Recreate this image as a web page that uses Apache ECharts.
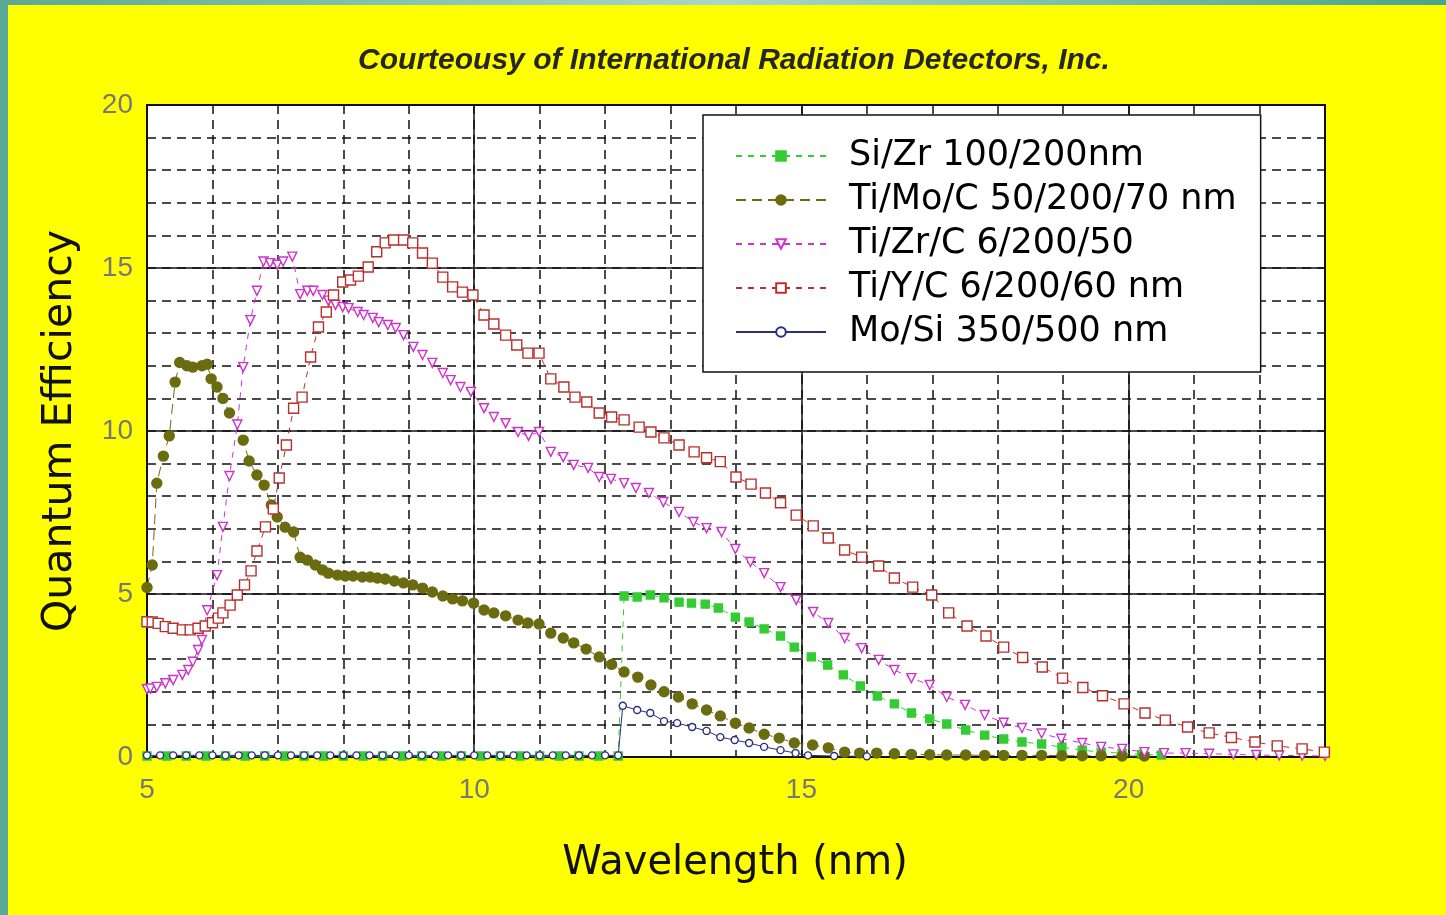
<!DOCTYPE html>
<html><head><meta charset="utf-8">
<script src="https://cdn.jsdelivr.net/npm/echarts@6/dist/echarts.min.js"></script>
<style>html,body{margin:0;padding:0;background:#ffff00;}#c{width:1446px;height:915px;}</style>
</head><body><div id="c"></div>
<script>
// ---- data (wavelength nm, quantum efficiency) ----
const seriesNames = ['Si/Zr 100/200nm','Ti/Mo/C 50/200/70 nm','Ti/Zr/C 6/200/50','Ti/Y/C 6/200/60 nm','Mo/Si 350/500 nm'];
const xTicks = [5,10,15,20];
const yTicks = [0,5,10,15,20];

const siZr = [[5.0,0.03],[5.3,0.03],[5.6,0.03],[5.9,0.03],[6.2,0.03],[6.5,0.03],[6.8,0.03],[7.1,0.03],[7.4,0.03],[7.7,0.03],[8.0,0.03],[8.3,0.03],[8.6,0.03],[8.9,0.03],[9.2,0.03],[9.5,0.03],[9.8,0.03],[10.1,0.03],[10.4,0.03],[10.7,0.03],[11.0,0.03],[11.3,0.03],[11.6,0.03],[11.9,0.03],[12.2,0.03],
[12.29,4.94],[12.49,4.91],[12.69,4.97],[12.9,4.88],[13.13,4.75],[13.32,4.72],[13.53,4.69],[13.73,4.57],[13.99,4.29],[14.2,4.14],[14.43,3.93],[14.68,3.71],[14.89,3.37],[15.15,3.07],[15.4,2.82],[15.64,2.52],[15.9,2.18],[16.16,1.87],[16.42,1.63],[16.68,1.35],[16.96,1.17],[17.22,1.01],[17.51,0.83],[17.8,0.67],[18.09,0.55],[18.37,0.46],[18.67,0.4],[18.98,0.3],[19.29,0.21],[19.58,0.15],[19.9,0.12],[20.2,0.08],[20.5,0.06]];

const tiMoC = [[5.0,5.2],[5.08,5.89],[5.15,8.4],[5.25,9.23],[5.34,9.85],[5.43,11.5],[5.5,12.1],[5.61,12.0],[5.7,11.96],[5.84,12.0],[5.92,12.05],[5.98,11.6],[6.07,11.35],[6.16,11.0],[6.26,10.55],[6.47,9.72],[6.56,9.08],[6.68,8.65],[6.79,8.34],[6.9,7.73],[6.99,7.36],[7.11,7.05],[7.24,6.9],[7.34,6.13],[7.45,6.04],[7.57,5.89],[7.68,5.74],[7.77,5.64],[7.91,5.58],[8.03,5.55],[8.15,5.55],[8.29,5.52],[8.41,5.52],[8.52,5.49],[8.64,5.46],[8.78,5.4],[8.92,5.34],[9.06,5.28],[9.21,5.18],[9.36,5.06],[9.52,4.94],[9.67,4.85],[9.82,4.79],[9.99,4.72],[10.15,4.51],[10.3,4.42],[10.48,4.33],[10.67,4.2],[10.82,4.11],[10.99,4.08],[11.17,3.8],[11.36,3.65],[11.52,3.5],[11.71,3.31],[11.91,3.07],[12.1,2.84],[12.29,2.61],[12.5,2.45],[12.7,2.21],[12.9,2.0],[13.12,1.84],[13.33,1.63],[13.55,1.44],[13.76,1.26],[13.99,1.04],[14.2,0.89],[14.43,0.7],[14.66,0.58],[14.89,0.43],[15.17,0.37],[15.41,0.28],[15.66,0.15],[15.89,0.12],[16.15,0.12],[16.42,0.1],[16.68,0.08],[16.96,0.07],[17.22,0.06],[17.51,0.06],[17.8,0.05],[18.09,0.05],[18.37,0.05],[18.67,0.05],[18.98,0.04],[19.29,0.04],[19.58,0.04],[19.9,0.03],[20.24,0.03]];

const tiZrC = [[5.0,2.08],[5.05,2.1],[5.15,2.15],[5.28,2.26],[5.4,2.36],[5.54,2.52],[5.63,2.67],[5.7,2.92],[5.78,3.28],[5.84,3.59],[5.92,4.5],[6.07,5.58],[6.16,7.06],[6.26,8.62],[6.38,10.2],[6.47,11.96],[6.58,13.4],[6.68,14.3],[6.78,15.2],[6.88,15.15],[6.99,15.1],[7.08,15.2],[7.22,15.35],[7.34,14.2],[7.45,14.3],[7.54,14.3],[7.68,14.17],[7.77,14.0],[7.88,13.87],[7.99,13.8],[8.08,13.77],[8.22,13.65],[8.31,13.56],[8.45,13.47],[8.54,13.34],[8.68,13.25],[8.8,13.16],[8.92,12.94],[9.07,12.58],[9.21,12.33],[9.36,12.09],[9.52,11.78],[9.64,11.56],[9.79,11.35],[9.95,11.2],[10.15,10.7],[10.3,10.43],[10.48,10.24],[10.67,9.97],[10.83,9.85],[10.99,9.97],[11.17,9.36],[11.36,9.2],[11.52,8.96],[11.74,8.87],[11.91,8.59],[12.09,8.53],[12.29,8.4],[12.47,8.25],[12.67,8.1],[12.89,7.82],[13.13,7.52],[13.35,7.21],[13.55,7.02],[13.78,6.9],[13.99,6.38],[14.22,5.98],[14.43,5.64],[14.68,5.21],[14.92,4.82],[15.18,4.45],[15.41,4.11],[15.66,3.65],[15.92,3.34],[16.18,2.98],[16.42,2.67],[16.68,2.42],[16.96,2.21],[17.22,1.84],[17.5,1.6],[17.8,1.29],[18.09,1.05],[18.37,0.89],[18.67,0.72],[18.97,0.56],[19.29,0.43],[19.58,0.31],[19.9,0.25],[20.24,0.15],[20.54,0.12],[20.87,0.12],[21.23,0.1],[21.6,0.08],[21.95,0.06],[22.3,0.05],[22.65,0.04],[23.0,0.03]];

const tiYC = [[5.0,4.15],[5.08,4.14],[5.17,4.1],[5.28,4.0],[5.4,3.95],[5.54,3.9],[5.66,3.9],[5.78,3.95],[5.89,4.02],[6.0,4.12],[6.09,4.26],[6.16,4.42],[6.27,4.66],[6.38,4.97],[6.49,5.28],[6.59,5.71],[6.68,6.32],[6.81,7.06],[6.93,7.61],[7.02,8.56],[7.13,9.57],[7.24,10.7],[7.37,11.04],[7.5,12.27],[7.62,13.19],[7.74,13.65],[7.85,14.17],[7.99,14.57],[8.11,14.63],[8.23,14.75],[8.38,15.03],[8.51,15.5],[8.64,15.77],[8.77,15.86],[8.92,15.86],[9.06,15.77],[9.21,15.46],[9.36,15.15],[9.52,14.72],[9.67,14.42],[9.82,14.26],[9.98,14.17],[10.15,13.56],[10.3,13.28],[10.48,12.94],[10.65,12.64],[10.82,12.39],[10.99,12.39],[11.17,11.6],[11.37,11.35],[11.54,11.04],[11.72,10.89],[11.91,10.55],[12.1,10.43],[12.29,10.34],[12.52,10.12],[12.7,9.97],[12.9,9.79],[13.13,9.57],[13.36,9.36],[13.55,9.18],[13.76,9.06],[14.0,8.59],[14.23,8.37],[14.45,8.1],[14.68,7.8],[14.92,7.42],[15.18,7.09],[15.41,6.72],[15.66,6.35],[15.92,6.13],[16.18,5.86],[16.42,5.49],[16.7,5.21],[16.99,4.97],[17.25,4.42],[17.53,4.02],[17.82,3.71],[18.09,3.37],[18.38,3.05],[18.68,2.76],[18.99,2.42],[19.3,2.13],[19.6,1.88],[19.93,1.63],[20.25,1.35],[20.56,1.13],[20.9,0.92],[21.23,0.74],[21.57,0.6],[21.93,0.46],[22.27,0.34],[22.65,0.25],[22.99,0.15]];

const moSi = [[5.0,0.05],[5.2,0.05],[5.4,0.05],[5.6,0.05],[5.8,0.05],[6.0,0.05],[6.2,0.05],[6.4,0.05],[6.6,0.05],[6.8,0.05],[7.0,0.05],[7.2,0.05],[7.4,0.05],[7.6,0.05],[7.8,0.05],[8.0,0.05],[8.2,0.05],[8.4,0.05],[8.6,0.05],[8.8,0.05],[9.0,0.05],[9.2,0.05],[9.4,0.05],[9.6,0.05],[9.8,0.05],[10.0,0.05],[10.2,0.05],[10.4,0.05],[10.6,0.05],[10.8,0.05],[11.0,0.05],[11.2,0.05],[11.4,0.05],[11.6,0.05],[11.8,0.05],[12.0,0.05],[12.2,0.05],
[12.27,1.57],[12.49,1.44],[12.69,1.35],[12.9,1.1],[13.1,1.04],[13.33,0.92],[13.55,0.8],[13.76,0.61],[13.98,0.52],[14.2,0.43],[14.43,0.31],[14.68,0.21],[14.91,0.12],[15.1,0.05],[15.5,0.03],[16.0,0.02]];

const FONT = "'Liberation Sans', Arial, sans-serif";
const WIDE = "'DejaVu Sans', 'Liberation Sans', sans-serif";
const chart = echarts.init(document.getElementById('c'), null, {renderer:'canvas'});
const grid = {left:147, right:121, top:105, bottom:158, show:true, backgroundColor:'#ffffff', borderColor:'#111', borderWidth:2, containLabel:false};

function mk(name, data, sym, size, fill, stroke, dash, rotate){
  return {name, type:'line', data, xAxisIndex:0, yAxisIndex:0, symbol:sym, symbolSize:size, symbolRotate:rotate||0,
    showSymbol:true, smooth:false, animation:false, z:5,
    lineStyle:{color:stroke, width:1, type:dash},
    itemStyle:{color:fill, borderColor:stroke, borderWidth:1.4}};
}

chart.setOption({
  animation:false,
  backgroundColor:'#ffff00',
  textStyle:{fontFamily:FONT},
  grid,
  graphic:[
    {type:'rect', left:0, top:0, shape:{width:1446, height:5}, style:{fill:new echarts.graphic.LinearGradient(0,0,1,0,[{offset:0,color:'#5aa994'},{offset:0.5,color:'#a9d6c9'},{offset:1,color:'#4aa38e'}])}, z:100},
    {type:'rect', left:0, top:0, shape:{width:8, height:915}, style:{fill:'#5aa994'}, z:100},
    {type:'text', x:734, y:61, style:{text:'Courteousy of International Radiation Detectors, Inc.', font:"italic bold 30px "+FONT, fill:'#262626', textAlign:'center', textVerticalAlign:'middle'}},
    {type:'text', x:735, y:864, style:{text:'Wavelength (nm)', font:"40px "+WIDE, fill:'#111', textAlign:'center', textVerticalAlign:'middle'}},
    {type:'text', x:60, y:431, rotation:Math.PI/2, style:{text:'Quantum Efficiency', font:"41px "+WIDE, fill:'#111', textAlign:'center', textVerticalAlign:'middle'}}
  ],
  legend:{
    show:true, orient:'vertical', left:703, top:115,
    data:seriesNames,
    backgroundColor:'#ffffff', borderColor:'#111', borderWidth:1.5,
    padding:[21,24,20,32], itemWidth:90, itemHeight:12, itemGap:4,
    textStyle:{fontSize:35, color:'#000', fontFamily:WIDE, padding:[0,0,0,18], lineHeight:40}
  },
  xAxis:[
    {type:'value', min:5, max:23, interval:1, position:'bottom',
      axisLine:{show:false}, axisTick:{show:false},
      axisLabel:{color:'#777', fontSize:28, margin:19, fontFamily:FONT, showMaxLabel:false,
        formatter:v=> xTicks.indexOf(v)>=0 ? String(v) : ''},
      splitLine:{show:true, lineStyle:{color:'#111', width:1.5, type:[9,6]}}},
    {type:'value', min:5, max:23, interval:5, position:'top',
      axisLine:{show:false}, axisTick:{show:false}, axisLabel:{show:false},
      splitLine:{show:true, lineStyle:{color:'#111', width:1.5, type:'solid'}}}
  ],
  yAxis:[
    {type:'value', min:0, max:20, interval:1, position:'left',
      axisLine:{show:false}, axisTick:{show:false},
      axisLabel:{color:'#777', fontSize:28, margin:14, fontFamily:FONT,
        formatter:v=> yTicks.indexOf(v)>=0 ? String(v) : ''},
      splitLine:{show:true, lineStyle:{color:'#111', width:1.5, type:[9,6]}}},
    {type:'value', min:0, max:20, interval:5, position:'right',
      axisLine:{show:false}, axisTick:{show:false}, axisLabel:{show:false},
      splitLine:{show:true, lineStyle:{color:'#111', width:1.5, type:'solid'}}}
  ],
  series:[
    mk(seriesNames[0], siZr, 'rect', 8, '#33cc33', '#33cc33', [6,6]),
    mk(seriesNames[1], tiMoC, 'circle', 10, '#6b6b10', '#6b6b10', [10,6]),
    mk(seriesNames[2], tiZrC, 'triangle', 9, '#ffffff', '#cc33cc', [6,6], 180),
    mk(seriesNames[3], tiYC, 'rect', 10, '#ffffff', '#b8302c', [6,6]),
    mk(seriesNames[4], moSi, 'circle', 7, '#ffffff', '#2c2c80', 'solid')
  ]
});
</script></body></html>
